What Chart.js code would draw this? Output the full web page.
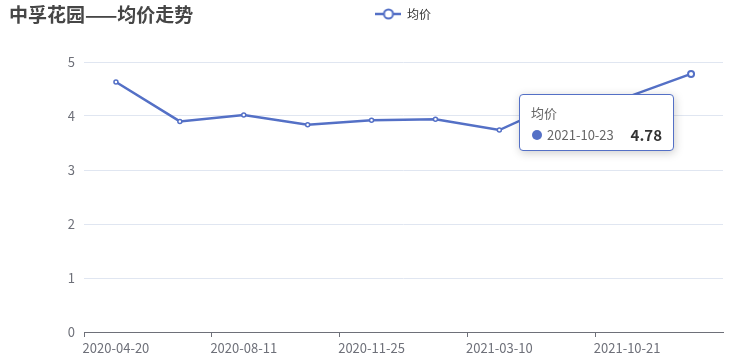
<!DOCTYPE html>
<html>
<head>
<meta charset="utf-8">
<script src="https://cdn.jsdelivr.net/npm/chart.js@4.4.1/dist/chart.umd.min.js"></script>
<style>
  html, body { margin: 0; padding: 0; background: #fff; }
  #wrap { position: relative; width: 756px; height: 362px; }
  #tip { position: absolute; display: none; box-sizing: border-box; width: 155px; height: 57px;
         background: #fff; border: 1px solid #5470c6; border-radius: 4px;
         box-shadow: 1px 2px 10px rgba(0,0,0,0.2); font-family: "Noto Sans CJK SC", "Noto Sans", sans-serif; }
  #tip .t { position: absolute; left: 11px; top: 9px; font-size: 13px; line-height: 17px; color: #666; }
  #tip .m { position: absolute; left: 12px; top: 35px; width: 10px; height: 10px; border-radius: 5px; background: #5470c6; }
  #tip .d { position: absolute; left: 27px; top: 31px; font-size: 13px; line-height: 18px; color: #666; }
  #tip .v { position: absolute; right: 11px; top: 30px; font-size: 15px; line-height: 20px; color: #333; font-weight: bold; }
</style>
</head>
<body>
<div id="wrap">
  <canvas id="c" width="756" height="362"></canvas>
  <div id="tip"><div class="t"></div><div class="m"></div><div class="d"></div><div class="v"></div></div>
</div>
<script>
const chartTitle = '中孚花园——均价走势';
const seriesName = '均价';
const categories = ['2020-04-20','2020-06-15','2020-08-11','2020-10-09','2020-11-25','2021-01-18','2021-03-10','2021-06-22','2021-10-21','2021-10-23'];
const avgPrice = [4.63, 3.90, 4.02, 3.84, 3.92, 3.94, 3.74, 4.28, 4.35, 4.78];
const yMin = 0, yMax = 5, yStep = 1;
const activeIndex = 9;

const BLUE = '#5470c6';
const FONT = '"Noto Sans CJK SC", "Noto Sans", sans-serif';
Chart.defaults.font.family = FONT;

// legend icon: line with hollow circle
const icon = document.createElement('canvas');
icon.width = 26; icon.height = 14;
(function(){
  const g = icon.getContext('2d');
  g.strokeStyle = BLUE; g.lineWidth = 2.5;
  g.beginPath(); g.moveTo(0, 7); g.lineTo(26, 7); g.stroke();
  g.beginPath(); g.arc(13, 7, 4.5, 0, Math.PI * 2);
  g.fillStyle = '#fff'; g.fill(); g.lineWidth = 2; g.stroke();
})();

const titlePlugin = {
  id: 'leftTitle',
  afterDraw(chart) {
    const ctx = chart.ctx;
    ctx.save();
    ctx.font = 'bold 19px ' + FONT;
    ctx.fillStyle = '#464646';
    ctx.textBaseline = 'middle';
    ctx.textAlign = 'left';
    ctx.fillText(chartTitle, 9, 15);
    ctx.restore();
  }
};

function externalTip(context) {
  const tip = document.getElementById('tip');
  const model = context.tooltip;
  if (!model || model.opacity === 0 || !model.dataPoints || !model.dataPoints.length) { tip.style.display = 'none'; return; }
  const dp = model.dataPoints[0];
  tip.querySelector('.t').textContent = dp.dataset.label;
  tip.querySelector('.d').textContent = dp.label;
  tip.querySelector('.v').textContent = dp.raw.toFixed(2);
  tip.style.display = 'block';
  tip.style.left = (model.caretX - 172) + 'px';
  tip.style.top = (model.caretY + 20) + 'px';
}

const chart = new Chart(document.getElementById('c'), {
  type: 'line',
  data: {
    labels: categories,
    datasets: [{
      label: seriesName,
      data: avgPrice,
      borderColor: BLUE,
      borderWidth: 2.5,
      backgroundColor: BLUE,
      pointRadius: 2,
      pointBorderWidth: 1.5,
      pointBackgroundColor: '#fff',
      pointBorderColor: BLUE,
      pointHoverRadius: 3,
      pointHoverBorderWidth: 2,
      pointHoverBackgroundColor: '#fff',
      pointHoverBorderColor: BLUE,
      tension: 0,
      fill: false,
      xAxisID: 'x',
      yAxisID: 'y'
    }]
  },
  options: {
    responsive: false,
    animation: false,
    layout: { padding: { left: 9, right: 33, top: 0, bottom: 0 } },
    interaction: { mode: 'nearest', intersect: true },
    plugins: {
      title: { display: false },
      legend: {
        display: true,
        position: 'top',
        fullSize: false,
        labels: {
          usePointStyle: true,
          pointStyleWidth: 25,
          padding: 8,
          color: '#333',
          font: { size: 12 },
          generateLabels(chart) {
            const items = Chart.defaults.plugins.legend.labels.generateLabels(chart);
            items.forEach(it => { it.pointStyle = icon; });
            return items;
          }
        }
      },
      tooltip: { enabled: false, external: externalTip }
    },
    scales: {
      x: {
        type: 'category',
        position: 'bottom',
        offset: true,
        afterFit(s) { s.height = 30; },
        grid: {
          display: true,
          offset: true,
          drawOnChartArea: false,
          drawTicks: true,
          tickLength: 5,
          color: (c) => (c.index % 2 === 0 ? '#6e7079' : 'rgba(0,0,0,0)'),
          lineWidth: 1
        },
        border: { display: true, color: '#6e7079', width: 1 },
        ticks: {
          autoSkip: false,
          maxRotation: 0,
          padding: 3,
          color: '#6e7079',
          font: { size: 13 },
          callback(v, i) { return i % 2 === 0 ? this.getLabelForValue(v) : ''; }
        }
      },
      xTopSpacer: {
        type: 'category',
        position: 'top',
        display: true,
        afterFit(s) { s.height = 32; },
        grid: { display: false },
        border: { display: false },
        ticks: { display: false }
      },
      y: {
        type: 'linear',
        min: yMin,
        max: yMax,
        afterFit(s) { s.width = 75; },
        grid: { color: '#e0e6f1', lineWidth: 1, drawTicks: false },
        border: { display: false },
        ticks: { stepSize: yStep, padding: 9, color: '#6e7079', font: { size: 13 } }
      }
    }
  },
  plugins: [titlePlugin]
});

const act = [{ datasetIndex: 0, index: activeIndex }];
const pt = chart.getDatasetMeta(0).data[activeIndex];
chart.setActiveElements(act);
chart.tooltip.setActiveElements(act, { x: pt.x, y: pt.y });
chart.update();
</script>
</body>
</html>
